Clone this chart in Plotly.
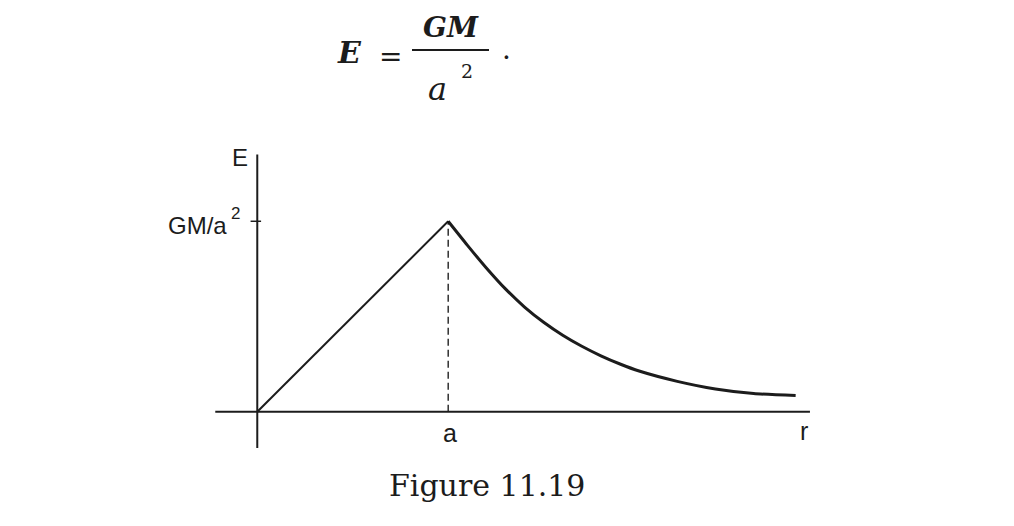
import plotly.graph_objects as go

# ---- data (a = 1, GM/a^2 = 1) ----
r_inside = [0.0, 1.0]
E_inside = [0.0, 1.0]
r_outside = [1.0, 1.1, 1.2, 1.3, 1.4, 1.5, 1.6, 1.7, 1.8, 1.9, 2.0, 2.2, 2.4, 2.6, 2.82]
E_outside = [1.0, 0.875, 0.755, 0.645, 0.55, 0.47, 0.402, 0.344, 0.294, 0.251, 0.214,
             0.16, 0.12, 0.096, 0.086]
tick_value = 1.0
tick_label = "GM/a"
x_label_a = "a"
x_label_r = "r"
y_label = "E"
caption = "Figure 11.19"

W, H = 1014, 526
OFF = 8  # page body margin
ML, MT = 192, 118
PW, PH = 630, 343
MR, MB = W - ML - PW, H - MT - PH


def px(x):
    return (x - OFF - ML) / PW


def py(y):
    return (MT + PH - (y - OFF)) / PH


fig = go.Figure()
ink = "#1c1c1c"

fig.add_trace(go.Scatter(x=r_inside, y=E_inside, mode="lines",
                         line=dict(color=ink, width=2), hoverinfo="skip"))
fig.add_trace(go.Scatter(x=r_outside, y=E_outside, mode="lines",
                         line=dict(color=ink, width=3, shape="spline", smoothing=0.6),
                         hoverinfo="skip"))
# dashed drop line at r = a
fig.add_trace(go.Scatter(x=[r_inside[-1], r_inside[-1]], y=[0, E_inside[-1]], mode="lines",
                         line=dict(color="#111111", width=1.3, dash="7px,4px"), hoverinfo="skip"))

shapes = [
    # axes
    dict(type="line", xref="x", yref="y", x0=-0.22, x1=2.895, y0=0, y1=0,
         line=dict(color=ink, width=2)),
    dict(type="line", xref="x", yref="y", x0=0, x1=0, y0=-0.19, y1=1.35,
         line=dict(color=ink, width=2)),
    # tick at GM/a^2
    dict(type="line", xref="x", yref="y", x0=-0.035, x1=0.02, y0=tick_value, y1=tick_value,
         line=dict(color=ink, width=1.5)),
    # fraction bar in the formula
    dict(type="line", xref="paper", yref="paper", x0=px(412), x1=px(489), y0=py(50), y1=py(50),
         line=dict(color=ink, width=2)),
]

serif = "DejaVu Serif"
sans = "Liberation Sans"


def ann(text, x, y, size, family, xanchor="center", yanchor="middle"):
    return dict(text=text, x=px(x), y=py(y), xref="paper", yref="paper",
                showarrow=False, xanchor=xanchor, yanchor=yanchor,
                font=dict(family=family, size=size, color=ink))


annotations = [
    ann("<b><i>E</i></b>", 349, 52, 30, serif),
    ann("=", 390, 56, 28, serif),
    ann("<b><i>GM</i></b>", 451, 27, 28, serif),
    ann("<i>a</i>", 437, 89, 32, serif),
    ann("2", 467, 71, 19, serif),
    ann("·", 506, 58, 28, serif),
    ann(y_label, 240, 157, 24, sans),
    ann(tick_label, 229, 225, 24, sans, xanchor="right"),
    ann("2", 235, 213, 17, sans),
    ann(x_label_a, 450, 433, 25, sans),
    ann(x_label_r, 804, 431, 25, sans),
    ann(caption, 487, 486, 30, serif),
]

fig.update_layout(
    width=W, height=H,
    margin=dict(l=ML, r=MR, t=MT, b=MB),
    paper_bgcolor="white", plot_bgcolor="white",
    showlegend=False,
    xaxis=dict(range=[-0.3, 3.0], visible=False, fixedrange=True),
    yaxis=dict(range=[-0.3, 1.5], visible=False, fixedrange=True),
    shapes=shapes,
    annotations=annotations,
)

fig.write_html("out.html")
